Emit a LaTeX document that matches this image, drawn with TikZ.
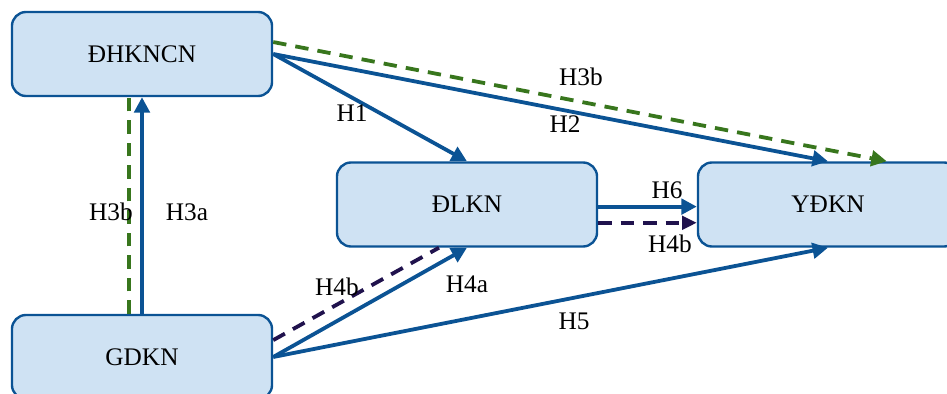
\documentclass[tikz,border=0pt]{standalone}
\usepackage{fontspec}
\setmainfont{Liberation Serif}
\usetikzlibrary{arrows.meta}

\begin{document}
\begin{tikzpicture}[x=0.025cm,y=-0.025cm,font=\fontsize{18}{20}\selectfont,
    mbox/.style={shape=rectangle,rounded corners=10pt,draw=mdl_blue,line width=1.7pt,fill=mdl_fill,minimum width=6.5cm,minimum height=2.1cm},
    solidarr/.style={draw=mdl_blue,line width=2.7pt,-{Triangle[length=11pt,width=11pt]}},
    greendash/.style={draw=mdl_green,line width=2.7pt,dash pattern=on 9.5pt off 6.5pt},
    navydash/.style={draw=mdl_navy,line width=2.7pt,dash pattern=on 9.5pt off 6.5pt},
    hlabel/.style={inner sep=0pt}]
    \definecolor{mdl_blue}{RGB}{11,83,148}
    \definecolor{mdl_fill}{RGB}{207,226,243}
    \definecolor{mdl_green}{RGB}{56,118,29}
    \definecolor{mdl_navy}{RGB}{32,18,77}
    \useasboundingbox (0,0) rectangle (947,394);
    \begin{scope}
    \clip (0,0) rectangle (947,394);
    \node[mbox] (dh) at (142,54)    {ĐHKNCN};
    \node[mbox] (dl) at (467,204.5) {ĐLKN};
    \node[mbox] (yd) at (828,204.5) {YĐKN};
    \node[mbox] (gd) at (142,357)   {GDKN};
    % GDKN <-> DHKNCN
    \draw[greendash] ([xshift=-9.2pt]gd.north) -- ([xshift=-9.2pt]dh.south);
    \draw[solidarr] (gd.north) -- (dh.south);
    % from DHKNCN
    \draw[solidarr] (dh.east) -- (dl.north);
    \draw[solidarr] (dh.east) -- (yd.north);
    \draw[greendash,-{Triangle[length=11pt,width=11pt]}] ([yshift=8.5pt]dh.east) -- ([xshift=41.8pt]yd.north);
    % DLKN -> YDKN
    \draw[solidarr] ([yshift=-1.5pt]dl.east) -- ([yshift=-1.5pt]yd.west);
    \draw[navydash,-{Triangle[length=10.5pt,width=9.5pt]}] ([yshift=-13pt]dl.east) -- ([yshift=-13pt]yd.west);
    % from GDKN
    \draw[navydash] ([yshift=12pt]gd.east) -- ([xshift=-19.9pt]dl.south);
    \draw[solidarr] (gd.east) -- (dl.south);
    \draw[solidarr] (gd.east) -- (yd.south);
    \end{scope}
    % labels
    \node[hlabel] (l3b) at (111,212) {H3b};
    \node[hlabel] (l3a) at (187,212) {H3a};
    \node[hlabel] (l1)  at (352,113) {H1};
    \node[hlabel] (l2)  at (565,124) {H2};
    \node[hlabel] (l3c) at (581,77)  {H3b};
    \node[hlabel] (l6)  at (667,190) {H6};
    \node[hlabel] (l4c) at (670,244) {H4b};
    \node[hlabel] (l4b) at (337,287) {H4b};
    \node[hlabel] (l4a) at (467,284) {H4a};
    \node[hlabel] (l5)  at (574,321) {H5};
\end{tikzpicture}
\end{document}
